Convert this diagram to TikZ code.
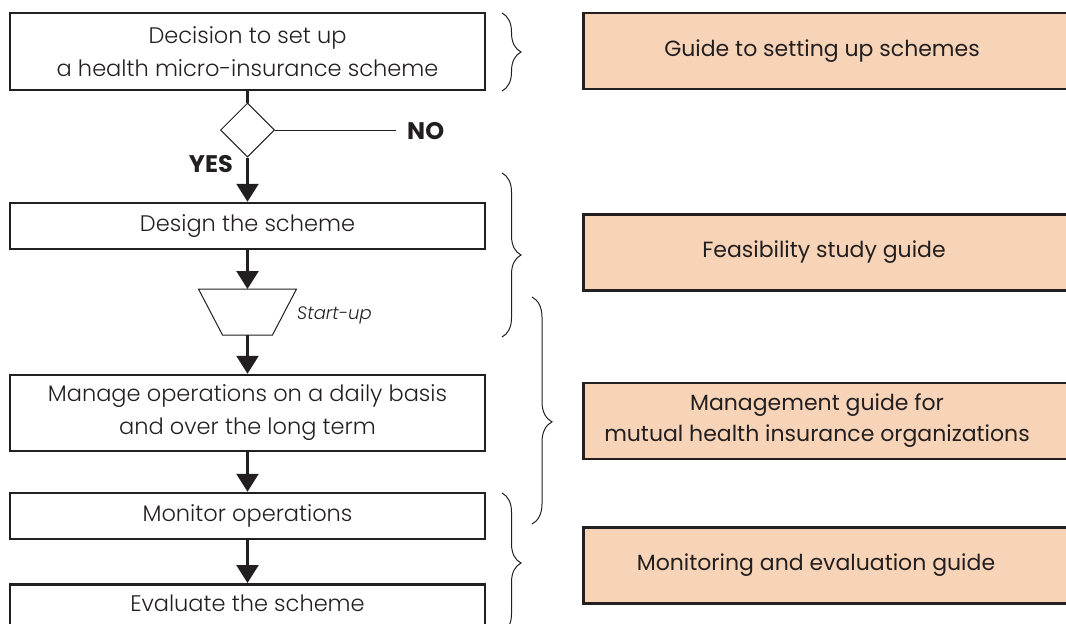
\documentclass[tikz,border=0pt]{standalone}
\usepackage{fontspec}
\setmainfont{Poppins}
\newfontfamily\lightfont{Poppins}[UprightFont={* Light},ItalicFont={* Light Italic}]
\usetikzlibrary{shapes.geometric,arrows.meta,decorations.pathreplacing}
\definecolor{ink}{HTML}{231F20}
\definecolor{peach}{HTML}{F7D4B7}
\begin{document}
\begin{tikzpicture}[x=1pt,y=-1pt,
  flowbox/.style={draw=ink, line width=2.5pt, minimum width=475pt, inner sep=0pt,
    align=center, text=ink, font=\lightfont\fontsize{22.5}{33}\selectfont},
  guidebox/.style={draw=ink, fill=peach, line width=2.5pt, minimum width=560pt,
    minimum height=76pt, anchor=west, inner sep=0pt},
  guidetext/.style={align=center, text=ink, font=\fontsize{22}{31}\selectfont},
  flowarrow/.style={draw=ink, line width=2.5pt, -{Triangle[width=22pt,length=18pt]}},
  thinline/.style={draw=ink, line width=1pt},
  bracket/.style={draw=ink, line width=1pt, decorate, decoration={brace, amplitude=19pt}},
  answer/.style={text=ink, font=\bfseries\fontsize{24}{28}\selectfont, inner sep=0pt},
]
\useasboundingbox (0,0) rectangle (1066,624);

% flow chart column
\node[flowbox, minimum height=77pt] (decide) at (247.5,51.5)
  {Decision to set up\\a health micro-insurance scheme};
\node[diamond, draw=ink, line width=1pt, minimum width=54pt, minimum height=54pt,
  inner sep=0pt] (choice) at (247.5,130) {};
\node[flowbox, minimum height=46pt] (design) at (247.5,226) {Design the scheme};

% start-up gate: an inverted trapezium
\coordinate (startup top) at (247.5,289);
\coordinate (startup bottom) at (247.5,335);
\draw[thinline, line join=miter] (198.5,289) -- (296.5,289) -- (272.5,335) -- (222.5,335) -- cycle;

\node[flowbox, minimum height=76pt] (manage) at (247.5,413)
  {Manage operations on a daily basis\\and over the long term};
\node[flowbox, minimum height=46pt] (monitor) at (247.5,516) {Monitor operations};
\node[flowbox, anchor=north, minimum height=80pt, text height=27pt, text depth=53pt]
  (evaluate) at (247.5,583) {Evaluate the scheme};

\node[answer, anchor=west] (no) at (407,131) {NO};
\node[answer, anchor=east] (yes) at (233,164) {YES};
\node[text=ink, font=\lightfont\itshape\fontsize{18}{24}\selectfont, anchor=west,
  inner sep=0pt] (startlabel) at (297,315) {Start-up};

\draw[draw=ink, line width=2.5pt] (decide.south) -- (choice.north);
\coordinate (noend) at (396,130);
\draw[thinline] (choice.east) -- (noend);
\draw[flowarrow] (choice.south) -- (design.north);
\draw[flowarrow] (design.south) -- (startup top);
\draw[flowarrow] (startup bottom) -- (manage.north);
\draw[flowarrow] (manage.south) -- (monitor.north);
\draw[flowarrow] (monitor.south) -- (evaluate.north);

% guides
\node[guidebox] (gsetup) at (582,51) {};
\node[guidetext] at (822,51) {Guide to setting up schemes};
\node[guidebox] (gfeas) at (582,252.5) {};
\node[guidetext] at (824,252.5) {Feasibility study guide};
\node[guidebox] (gmanage) at (582,421) {};
\node[guidetext] at (817,421) {Management guide for\\mutual health insurance organizations};
\node[guidebox] (gmonitor) at (582,565.5) {};
\node[guidetext] at (816,565.5) {Monitoring and evaluation guide};

% braces
\draw[bracket] (502,13) -- (502,91);
\draw[bracket] (502,173) -- (502,337);
\draw[bracket, decoration={brace, amplitude=20pt, aspect=0.55}] (532,297) -- (532,524);
\draw[bracket] (502,493) -- (502,633);
\end{tikzpicture}
\end{document}
